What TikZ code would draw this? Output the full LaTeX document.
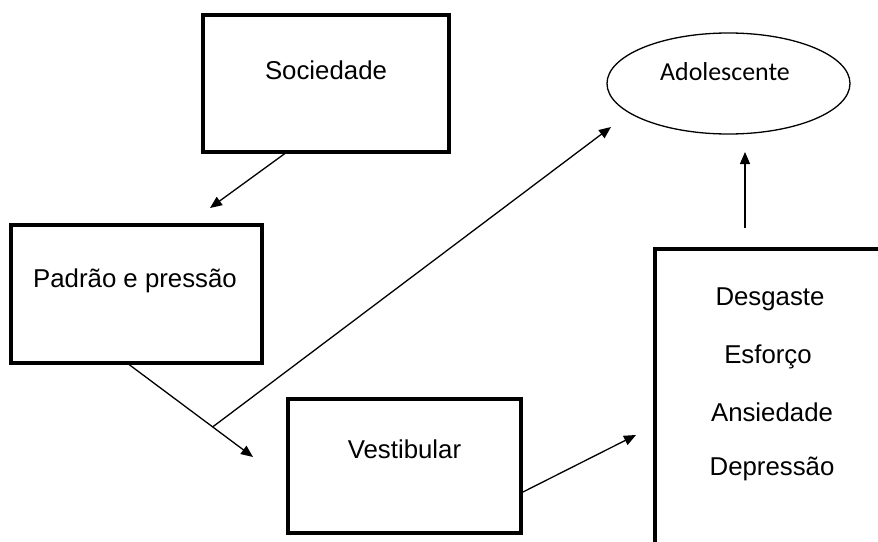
\documentclass[tikz,border=0pt]{standalone}
\usepackage{fontspec}
\setmainfont{Liberation Sans}
\newfontfamily\calib{Carlito}
\usetikzlibrary{arrows.meta,calc,shapes.geometric}
\begin{document}
\begin{tikzpicture}[x=1pt,y=-1pt,
  box/.style={draw,line width=4pt,rectangle,inner sep=0pt,outer sep=0pt},
  lbl/.style={anchor=base,inner sep=0pt,font=\fontsize{25.8}{30}\selectfont},
  conn/.style={line width=1.3pt,-{Triangle[length=12pt,width=10pt]}},
  plain/.style={line width=1.3pt}]
\useasboundingbox (0,0) rectangle (878,541);
\clip (0,0) rectangle (878,541);

% boxes
\node[box,minimum width=246pt,minimum height=137pt] (soc) at (326,83.5) {};
\node[box,minimum width=251pt,minimum height=138pt] (pad) at (136.5,294) {};
\node[box,minimum width=233pt,minimum height=134pt] (ves) at (404.5,466) {};
\node[box,anchor=north west,minimum width=280pt,minimum height=340pt] (sint) at (655,249) {};
\node[draw,ellipse,line width=1.3pt,minimum width=243pt,minimum height=101pt,inner sep=0pt] (ado) at (728.5,83.5) {};

% labels
\node[lbl] (tsoc) at (326,79) {Sociedade};
\node[lbl] (tpad) at (135,287) {Padrão e pressão};
\node[lbl] (tves) at (404.5,458) {Vestibular};
\node[lbl] (t1) at (770,305) {Desgaste};
\node[lbl] (t2) at (768,363) {Esforço};
\node[lbl] (t3) at (772,421) {Ansiedade};
\node[lbl] (t4) at (772,475) {Depressão};
\node[lbl,font=\calib\fontsize{25.9}{30}\selectfont] (tado) at (725,80) {Adolescente};

% connector ends
\coordinate (a1) at (210,208);
\coordinate (a2) at (253,457);
\coordinate (a3) at (611,127);
\coordinate (a4) at (636,435);
\coordinate (a5s) at (745,228);
\coordinate (a5) at (745,152);

% connectors
\draw[conn] ([xshift=84pt]soc.south west) -- (a1);
\coordinate (ps) at ([xshift=116pt]pad.south west);
\draw[conn] (ps) -- (a2);
\coordinate (br) at ($(ps)!0.68!(a2)$);
\draw[conn] (br) -- (a3);
\draw[conn] ([yshift=-27pt]ves.east) -- (a4);
\draw[conn] (a5s) -- (a5);
\end{tikzpicture}
\end{document}
